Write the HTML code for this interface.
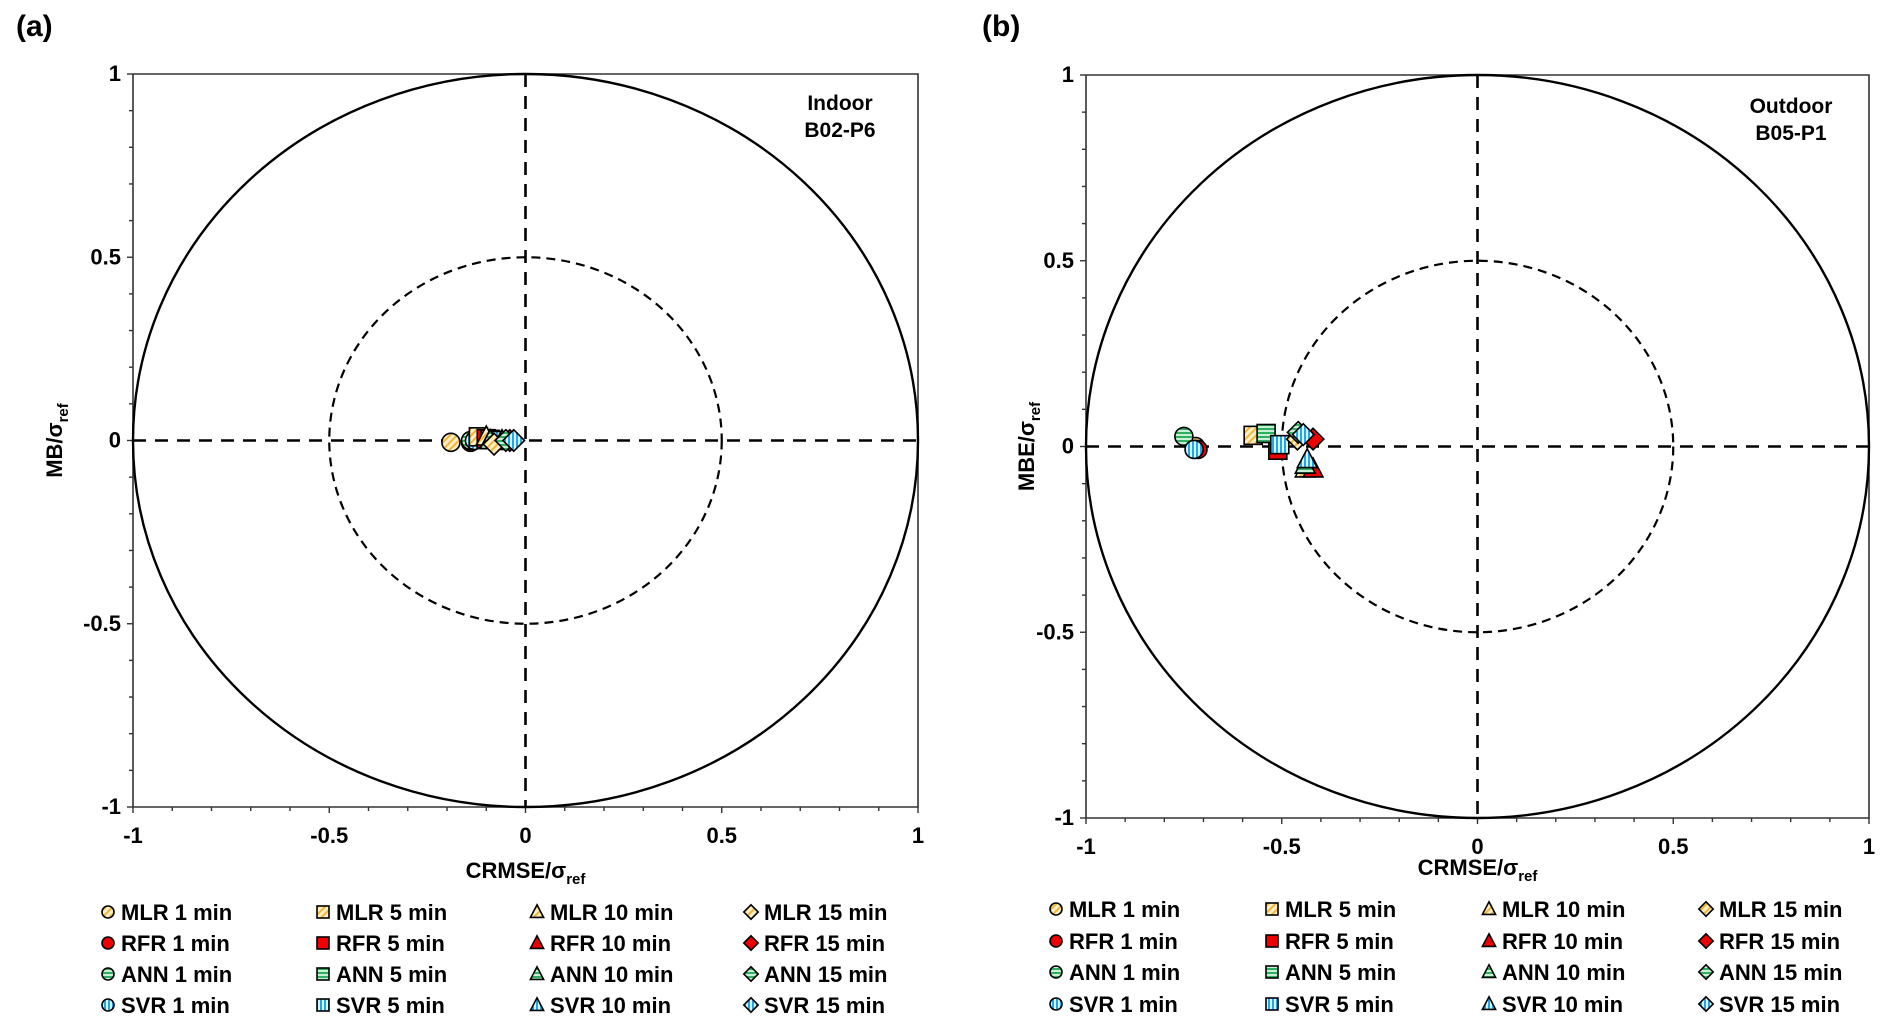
<!DOCTYPE html>
<html><head><meta charset="utf-8"><style>
html,body{margin:0;padding:0;background:#fff;}
svg{display:block;font-family:"Liberation Sans",Arial,sans-serif;font-weight:bold;}
</style></head><body>
<svg id="chart" width="1892" height="1032" viewBox="0 0 1892 1032" xmlns="http://www.w3.org/2000/svg">
<defs>
<pattern id="pMLR" patternUnits="userSpaceOnUse" width="5" height="5" patternTransform="rotate(45)"><rect width="5" height="5" fill="#fdf0c8"/><rect width="2" height="5" fill="#f5b433"/></pattern>
<pattern id="pANN" patternUnits="userSpaceOnUse" width="4" height="4"><rect width="4" height="4" fill="#c8f0d4"/><rect width="4" height="2" fill="#2fb060"/></pattern>
<pattern id="pSVR" patternUnits="userSpaceOnUse" width="4" height="4"><rect width="4" height="4" fill="#d8f4ff"/><rect width="2" height="4" fill="#1ea8e8"/></pattern>
</defs>
<g id="root"></g>
</svg>
<script>
// ---- data ----
const models = ["MLR","RFR","ANN","SVR"];
const horizons = ["1 min","5 min","10 min","15 min"];
const shapes = ["circle","square","triangle","diamond"];
const fills = ["url(#pMLR)","#ee0000","url(#pANN)","url(#pSVR)"];
// panel a (Indoor B02-P6): [model][horizon] x values and y values
const aX = [[-0.19,-0.12,-0.10,-0.08],[-0.14,-0.10,-0.09,-0.04],[-0.14,-0.09,-0.09,-0.05],[-0.13,-0.07,-0.06,-0.03]];
const aY = [[-0.005,0.01,0.01,-0.01],[-0.005,0.005,0.0,0.0],[0.0,0.003,0.0,0.0],[0.0,0.0,0.0,0.0]];
// panel b (Outdoor B05-P1)
const bX = [[-0.72,-0.573,-0.44,-0.46],[-0.714,-0.51,-0.42,-0.42],[-0.75,-0.54,-0.44,-0.458],[-0.724,-0.505,-0.435,-0.445]];
const bY = [[0.0,0.03,-0.06,0.02],[-0.008,-0.01,-0.06,0.02],[0.027,0.035,-0.05,0.038],[-0.008,0.005,-0.035,0.032]];
const tickVals = [-1,-0.5,0,0.5,1];
const tickLabels = ["-1","-0.5","0","0.5","1"];

const NS="http://www.w3.org/2000/svg";
const root=document.getElementById('root');
function mk(tag,attrs,parent){const e=document.createElementNS(NS,tag);for(const k in attrs)e.setAttribute(k,attrs[k]);(parent||root).appendChild(e);return e;}

function marker(g,shape,cx,cy,s,fill){
  let e;
  if(shape==="circle") e=mk('circle',{cx:cx,cy:cy,r:s/2,fill:fill,stroke:'#000','stroke-width':1.6},g);
  else if(shape==="square") e=mk('rect',{x:cx-s/2,y:cy-s/2,width:s,height:s,fill:fill,stroke:'#000','stroke-width':1.6},g);
  else if(shape==="triangle") e=mk('polygon',{points:`${cx},${cy-s*0.6} ${cx+s*0.55},${cy+s*0.45} ${cx-s*0.55},${cy+s*0.45}`,fill:fill,stroke:'#000','stroke-width':1.6},g);
  else e=mk('polygon',{points:`${cx},${cy-s*0.6} ${cx+s*0.6},${cy} ${cx},${cy+s*0.6} ${cx-s*0.6},${cy}`,fill:fill,stroke:'#000','stroke-width':1.6},g);
  return e;
}

function panel(P){
  const g=mk('g',{});
  
  
  const sx=v=>P.cx+v*(P.r-P.l)/2, sy=v=>P.cy-v*(P.b-P.t)/2;
  const rx=(P.r-P.l)/2, ry=(P.b-P.t)/2;
  const ax=mk('path',{d:`M${P.l},${P.t} V${P.b} H${P.r} V${P.t} H${P.l}`,fill:'none',stroke:'#333','stroke-width':1.6},g);
  
  for(let i=-10;i<=10;i++){
    const v=i/10, major=(i%5===0), len=major?6:4;
    mk('line',{x1:sx(v),x2:sx(v),y1:P.b,y2:P.b+len,stroke:'#333','stroke-width':1.4},g);
    mk('line',{x1:P.l,x2:P.l-len,y1:sy(v),y2:sy(v),stroke:'#333','stroke-width':1.4},g);
  }
  tickVals.forEach((v,i)=>{
    const t=mk('text',{x:sx(v),y:P.xlabY,'text-anchor':'middle','font-size':22},g);t.textContent=tickLabels[i];
    
    const u=mk('text',{x:P.l-12,y:sy(v)+7,'text-anchor':'end','font-size':22},g);u.textContent=tickLabels[i];
    
  });
  const o=mk('ellipse',{cx:P.cx,cy:P.cy,rx:rx,ry:ry,fill:'none',stroke:'#000','stroke-width':2.4},g);
  
  const ic=mk('ellipse',{cx:P.cx,cy:P.cy,rx:rx/2,ry:ry/2,fill:'none',stroke:'#000','stroke-width':2.2,'stroke-dasharray':'9,6'},g);
  
  mk('line',{x1:P.l,x2:P.r,y1:P.cy,y2:P.cy,stroke:'#000','stroke-width':2.6,'stroke-dasharray':'13,9'},g);
  mk('line',{x1:P.cx,x2:P.cx,y1:P.t,y2:P.b,stroke:'#000','stroke-width':2.6,'stroke-dasharray':'13,9'},g);
  for(let h=0;h<4;h++)for(let m=0;m<4;m++){
    const e=marker(g,shapes[h],sx(P.X[m][h]),sy(P.Y[m][h]),18,fills[m]);
    
    
  }
  const pl=mk('text',{x:P.pX,y:36,'font-size':30},g);pl.textContent=P.letter;
  
  const l1=mk('text',{x:P.locX,y:P.locY,'text-anchor':'middle','font-size':21},g);l1.textContent=P.loc1;
  
  const l2=mk('text',{x:P.locX,y:P.locY+27,'text-anchor':'middle','font-size':21},g);l2.textContent=P.loc2;
  
  const xt=mk('text',{x:P.cx,y:P.xtY,'text-anchor':'middle','font-size':22},g);
  xt.innerHTML='CRMSE/σ<tspan font-size="15" dy="6">ref</tspan>';
  
  const yt=mk('text',{x:0,y:0,'text-anchor':'middle','font-size':22,transform:`translate(${P.ytX},${P.cy}) rotate(-90)`},g);
  yt.innerHTML=P.ylab+'/σ<tspan font-size="15" dy="6">ref</tspan>';
  
  for(let h=0;h<4;h++)for(let m=0;m<4;m++){
    const lx=P.legX[h], ly=P.legY[m];
    const lg=mk('g',{},g);
    
    
    marker(lg,shapes[h],lx,ly,12,fills[m]);
    const t=mk('text',{x:lx+13,y:ly+8,'font-size':22},lg);t.textContent=models[m]+' '+horizons[h];
  }
}
panel({name:'panel-a-indoor',l:133,r:918,t:74,b:807,cx:525.5,cy:440.5,X:aX,Y:aY,xlabY:843,pX:16,letter:'(a)',
  locX:840,locY:110,loc1:'Indoor',loc2:'B02-P6',xtY:878,ytX:62,ylab:'MB',
  legX:[108,323,537,751],legY:[912,943,974,1005]});
panel({name:'panel-b-outdoor',l:1086,r:1869,t:75,b:818,cx:1477.5,cy:446.5,X:bX,Y:bY,xlabY:854,pX:982,letter:'(b)',
  locX:1791,locY:113,loc1:'Outdoor',loc2:'B05-P1',xtY:875,ytX:1034,ylab:'MBE',
  legX:[1056,1272,1489,1706],legY:[909,941,972,1004]});
</script>
</body></html>
